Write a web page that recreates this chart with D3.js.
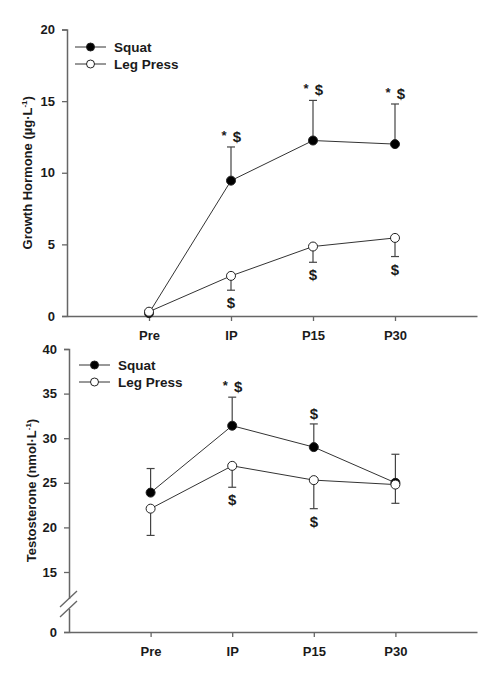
<!DOCTYPE html>
<html>
<head>
<meta charset="utf-8">
<script src="https://cdn.jsdelivr.net/npm/d3@7"></script>
<style>
  body { margin: 0; background: #fff; }
  svg { display: block; font-family: "Liberation Sans", Arial, sans-serif; font-weight: bold; }
</style>
</head>
<body>
<svg id="chart"></svg>
<script>
// Page size matches the reference picture
const width = 495;
const height = 685;

// Time points on the x axis
const categories = ["Pre", "IP", "P15", "P30"];

// Growth hormone (µg·L-1), means and SD
const ghSquat = [0.2, 9.45, 12.25, 12.0];
const ghSquatSd = [0.1, 2.35, 2.8, 2.8];
const ghLegPress = [0.3, 2.8, 4.85, 5.45];
const ghLegPressSd = [0.1, 1.0, 1.1, 1.3];
const ghSquatMarks = ["", "* $", "* $", "* $"];
const ghLegPressMarks = ["", "$", "$", "$"];
const ghTicks = [0, 5, 10, 15, 20];

// Testosterone (nmol·L-1), means and SD
const tSquat = [23.9, 31.4, 29.0, 25.0];
const tSquatSd = [2.7, 3.2, 2.6, 3.2];
const tLegPress = [22.1, 26.9, 25.3, 24.8];
const tLegPressSd = [3.0, 2.4, 3.2, 2.1];
const tSquatMarks = ["", "* $", "$", ""];
const tLegPressMarks = ["", "$", "$", ""];
const tTicks = [0, 15, 20, 25, 30, 35, 40];

const legendNames = ["Squat", "Leg Press"];

const svg = d3.select("#chart")
    .attr("width", width)
    .attr("height", height);

const axisColor = "#666";
const textColor = "#1a1a1a";

// Draws one panel: axes, lines, error bars, markers, significance marks and legend
function drawPanel(opt) {
    const g = svg.append("g");
    const x = d3.scaleLinear().domain([0, 5]).range([opt.left, 477]);
    const y = opt.y;
    const xOf = i => x(i + 1);

    // y axis
    const yAxis = g.append("g")
        .attr("transform", `translate(${opt.left},0)`)
        .call(d3.axisLeft(y).tickValues(opt.ticks).tickSize(5).tickPadding(7));
    yAxis.selectAll("line").attr("stroke", axisColor).attr("stroke-width", 1.3);
    yAxis.select(".domain").attr("stroke", axisColor).attr("stroke-width", 1.5);
    yAxis.selectAll("text").attr("fill", textColor).style("font-size", "13px").style("font-weight", "bold").style("font-family", "Liberation Sans, Arial, sans-serif");

    // x axis, only ticks at the time points
    const xAxis = g.append("g")
        .attr("transform", `translate(0,${y(0)})`)
        .call(d3.axisBottom(x).tickValues([1, 2, 3, 4]).tickSize(5).tickPadding(10)
            .tickFormat(d => categories[d - 1]).tickSizeOuter(0));
    xAxis.selectAll("line").attr("stroke", axisColor).attr("stroke-width", 1.3);
    xAxis.select(".domain").attr("stroke", axisColor).attr("stroke-width", 1.5);
    xAxis.selectAll("text").attr("fill", textColor).style("font-size", "13px").style("font-weight", "bold").style("font-family", "Liberation Sans, Arial, sans-serif");

    // axis break on the y axis
    if (opt.breakAt !== undefined) {
        const by = y(opt.breakAt);
        g.append("rect")
            .attr("x", opt.left - 2).attr("y", by - 5)
            .attr("width", 4).attr("height", 10)
            .attr("fill", "#fff");
        [-5, 5].forEach(off => {
            g.append("line")
                .attr("x1", opt.left - 9).attr("y1", by + off + 8)
                .attr("x2", opt.left + 8).attr("y2", by + off - 8)
                .attr("stroke", axisColor).attr("stroke-width", 1.3);
        });
    }

    // y axis title
    const title = g.append("text")
        .attr("transform", `translate(${opt.titleX},${(y.range()[0] + y.range()[y.range().length - 1]) / 2}) rotate(-90)`)
        .attr("text-anchor", "middle")
        .attr("fill", textColor)
        .style("font-size", "13px");
    title.append("tspan").text(opt.titleMain);
    title.append("tspan").text("-1").attr("dy", -5).style("font-size", "8px");
    title.append("tspan").text(")").attr("dy", 5);

    const series = [
        { values: opt.squat, sd: opt.squatSd, marks: opt.squatMarks, fill: "#000", dir: -1 },
        { values: opt.leg, sd: opt.legSd, marks: opt.legMarks, fill: "#fff", dir: 1 }
    ];

    const line = d3.line().x((d, i) => xOf(i)).y(d => y(d));

    series.forEach(s => {
        // error bars (squat upward, leg press downward)
        s.values.forEach((v, i) => {
            const yEnd = y(v - s.dir * s.sd[i]);
            g.append("line")
                .attr("x1", xOf(i)).attr("x2", xOf(i))
                .attr("y1", y(v)).attr("y2", yEnd)
                .attr("stroke", "#444").attr("stroke-width", 1.2);
            g.append("line")
                .attr("x1", xOf(i) - 4).attr("x2", xOf(i) + 4)
                .attr("y1", yEnd).attr("y2", yEnd)
                .attr("stroke", "#444").attr("stroke-width", 1.2);

            // significance marks above / below the cap
            const m = s.marks[i];
            if (m) {
                const base = s.dir < 0 ? yEnd - 5 : yEnd + 18;
                if (m.includes("*")) {
                    g.append("text").attr("x", xOf(i) - 7).attr("y", base - 2)
                        .attr("text-anchor", "middle").attr("fill", textColor)
                        .style("font-size", "13px").text("*");
                    g.append("text").attr("x", xOf(i) + 6).attr("y", base)
                        .attr("text-anchor", "middle").attr("fill", textColor)
                        .style("font-size", "15px").text("$");
                } else {
                    g.append("text").attr("x", xOf(i)).attr("y", base)
                        .attr("text-anchor", "middle").attr("fill", textColor)
                        .style("font-size", "15px").text("$");
                }
            }
        });
    });

    series.forEach(s => {
        g.append("path")
            .datum(s.values)
            .attr("d", line)
            .attr("fill", "none")
            .attr("stroke", "#333")
            .attr("stroke-width", 1);
    });

    series.forEach(s => {
        g.selectAll(null)
            .data(s.values)
            .enter()
            .append("circle")
            .attr("cx", (d, i) => xOf(i))
            .attr("cy", d => y(d))
            .attr("r", 4.5)
            .attr("fill", s.fill)
            .attr("stroke", "#222")
            .attr("stroke-width", 1);
    });

    // legend
    legendNames.forEach((name, i) => {
        const ly = opt.legendY + i * 17;
        g.append("line")
            .attr("x1", opt.legendX).attr("x2", opt.legendX + 31)
            .attr("y1", ly).attr("y2", ly)
            .attr("stroke", "#333").attr("stroke-width", 1);
        g.append("circle")
            .attr("cx", opt.legendX + 15.5).attr("cy", ly).attr("r", 4)
            .attr("fill", series[i].fill).attr("stroke", "#222").attr("stroke-width", 1);
        g.append("text")
            .attr("x", opt.legendX + 39).attr("y", ly + 5)
            .attr("fill", textColor)
            .style("font-size", "13.5px")
            .text(name);
    });
}

// Top panel: growth hormone
drawPanel({
    left: 67,
    y: d3.scaleLinear().domain([0, 20]).range([316, 29.5]),
    ticks: ghTicks,
    titleX: 32,
    titleMain: "Growth Hormone (µg·L",
    squat: ghSquat, squatSd: ghSquatSd, squatMarks: ghSquatMarks,
    leg: ghLegPress, legSd: ghLegPressSd, legMarks: ghLegPressMarks,
    legendX: 75, legendY: 47
});

// Bottom panel: testosterone, with a broken axis between 0 and 15
drawPanel({
    left: 69,
    y: d3.scaleLinear().domain([0, 15, 40]).range([632, 572, 349]),
    ticks: tTicks,
    breakAt: 7,
    titleX: 36,
    titleMain: "Testosterone (nmol·L",
    squat: tSquat, squatSd: tSquatSd, squatMarks: tSquatMarks,
    leg: tLegPress, legSd: tLegPressSd, legMarks: tLegPressMarks,
    legendX: 79, legendY: 365
});
</script>
</body>
</html>
